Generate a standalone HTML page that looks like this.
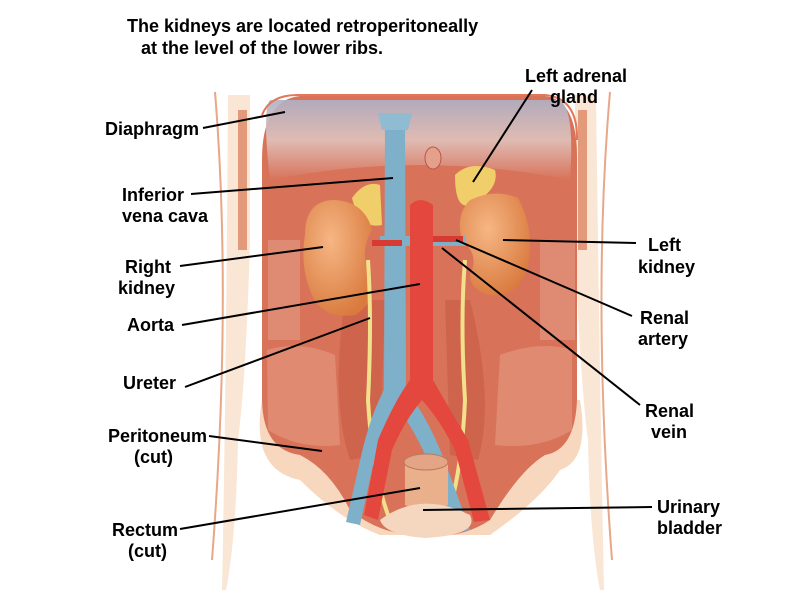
<!DOCTYPE html>
<html><head><meta charset="utf-8"><style>
html,body{margin:0;padding:0;background:#fff}
svg{display:block}
text{font-family:"Liberation Sans",Arial,sans-serif;font-weight:700;font-size:18px;fill:#000}
</style></head><body>
<svg width="800" height="601" viewBox="0 0 800 601" xmlns="http://www.w3.org/2000/svg">
<defs>
<linearGradient id="dia" x1="0" y1="0" x2="0" y2="1">
<stop offset="0" stop-color="#aeb0c6"/><stop offset="0.5" stop-color="#e0c3bc"/><stop offset="1" stop-color="#d8735a"/>
</linearGradient>
<radialGradient id="kid" cx="0.4" cy="0.35" r="0.7">
<stop offset="0" stop-color="#f6b684"/><stop offset="1" stop-color="#d97a3e"/>
</radialGradient>
</defs>
<!-- body outline / skin -->
<path d="M215 92 Q232 300 212 560" stroke="#e8a888" stroke-width="2" fill="none"/>
<path d="M610 92 Q592 300 612 560" stroke="#e8a888" stroke-width="2" fill="none"/>
<path d="M228 95 L250 95 L250 240 Q246 380 238 440 Q236 540 226 590 L222 590 Q226 400 228 95Z" fill="#fae6d4"/>
<path d="M596 95 L575 95 L575 240 Q580 380 588 440 Q590 540 600 590 L604 590 Q600 400 596 95Z" fill="#fae6d4"/>
<rect x="238" y="110" width="9" height="140" fill="#e39a7a"/>
<rect x="578" y="110" width="9" height="140" fill="#e39a7a"/>
<!-- peritoneum cream -->
<path d="M262 400 Q250 470 300 480 Q340 520 380 535 L490 535 Q540 500 560 470 Q590 460 580 400Z" fill="#f7d8bf"/>
<!-- main abdominal region -->
<path d="M262 160 Q262 100 300 96 L545 96 Q578 100 577 160 L577 400 Q575 450 545 455 Q520 470 490 520 Q460 540 420 535 Q380 535 350 510 Q330 470 300 455 Q263 450 262 400Z" fill="#d8735a"/>
<path d="M270 100 L560 100 Q575 110 570 180 Q420 150 270 180 Q262 110 270 100Z" fill="url(#dia)" opacity="0.9"/>
<path d="M262 115 Q270 94 300 95 L545 95 Q578 98 577 140" stroke="#e2775a" stroke-width="2" fill="none"/>
<!-- lateral lower muscles -->
<path d="M267 350 Q300 340 335 355 L340 445 Q300 450 268 430Z" fill="#e08a72"/>
<path d="M572 350 Q540 340 500 355 L495 445 Q540 450 572 430Z" fill="#e08a72"/>
<path d="M268 240 L300 240 L300 340 L268 340Z" fill="#e5a28c" opacity="0.5"/>
<path d="M540 240 L575 240 L575 340 L540 340Z" fill="#e5a28c" opacity="0.5"/>
<!-- psoas -->
<path d="M345 300 Q330 400 350 460 L380 455 L385 300Z" fill="#cf644c"/>
<path d="M470 300 Q495 400 478 460 L450 455 L445 300Z" fill="#cf644c"/>
<!-- adrenal glands -->
<path d="M352 198 Q365 180 380 185 L382 225 Q360 230 352 198Z" fill="#f0cf6a"/>
<path d="M455 175 Q470 160 495 170 Q500 190 470 205 Q455 210 455 175Z" fill="#f0cf6a"/>
<!-- kidneys -->
<path d="M305 235 Q305 200 335 200 Q365 202 372 230 Q360 250 368 270 Q380 300 355 315 Q320 320 310 290 Q300 265 305 235Z" fill="url(#kid)"/>
<path d="M470 200 Q495 188 518 198 Q535 230 528 265 Q520 298 490 295 Q470 290 470 275 Q480 255 462 240 Q455 215 470 200Z" fill="url(#kid)"/>
<!-- ureters -->
<path d="M368 260 Q372 320 368 400 Q372 470 388 515" stroke="#f3e08a" stroke-width="4" fill="none"/>
<path d="M465 260 Q460 320 465 400 Q462 470 448 515" stroke="#f3e08a" stroke-width="4" fill="none"/>
<!-- vena cava -->
<path d="M385 122 L405 122 L406 390 Q430 420 448 470 L470 530 L456 532 L432 470 Q415 430 396 405 Q380 430 372 470 L360 525 L346 522 L358 470 Q368 420 384 390Z" fill="#7fb0c9"/>
<path d="M378 113 L412 113 L408 130 L382 130Z" fill="#8fbbd3"/>
<rect x="380" y="236" width="85" height="10" fill="#7fb0c9"/>
<!-- aorta -->
<path d="M410 205 Q420 195 433 205 L433 380 Q450 410 468 440 L490 520 L474 522 L455 450 Q440 420 422 400 Q405 420 392 450 L378 520 L364 515 L378 440 Q395 400 410 380Z" fill="#e4473d"/>
<rect x="372" y="240" width="30" height="6" fill="#d63a30"/>
<rect x="433" y="236" width="30" height="6" fill="#d63a30"/>
<ellipse cx="433" cy="158" rx="8" ry="11" fill="#e4a08a" stroke="#b8574a"/>
<!-- rectum + bladder -->
<path d="M405 460 Q425 450 448 462 L448 505 Q425 515 405 505Z" fill="#eab08c"/>
<ellipse cx="426" cy="462" rx="22" ry="8" fill="#e3a585" stroke="#b97a5a"/>
<path d="M380 520 Q420 490 470 515 Q480 535 425 538 Q385 535 380 520Z" fill="#f5d7c0"/>
<!-- leader lines -->
<g stroke="#000" stroke-width="2" fill="none">
<line x1="203" y1="128" x2="285" y2="112"/>
<line x1="191" y1="194" x2="393" y2="178"/>
<line x1="180" y1="266" x2="323" y2="247"/>
<line x1="182" y1="325" x2="420" y2="284"/>
<line x1="185" y1="387" x2="370" y2="318"/>
<line x1="209" y1="436" x2="322" y2="451"/>
<line x1="180" y1="529" x2="420" y2="488"/>
<line x1="532" y1="90" x2="473" y2="182"/>
<line x1="636" y1="243" x2="503" y2="240"/>
<line x1="632" y1="316" x2="456" y2="240"/>
<line x1="640" y1="405" x2="442" y2="248"/>
<line x1="652" y1="507" x2="423" y2="510"/>
</g>
<!-- labels -->
<text x="127" y="32">The kidneys are located retroperitoneally</text>
<text x="141" y="54">at the level of the lower ribs.</text>
<text x="105" y="135">Diaphragm</text>
<text x="122" y="201">Inferior</text>
<text x="122" y="222">vena cava</text>
<text x="125" y="273">Right</text>
<text x="118" y="294">kidney</text>
<text x="127" y="331">Aorta</text>
<text x="123" y="389">Ureter</text>
<text x="108" y="442">Peritoneum</text>
<text x="134" y="463">(cut)</text>
<text x="112" y="536">Rectum</text>
<text x="128" y="557">(cut)</text>
<text x="525" y="82">Left adrenal</text>
<text x="550" y="103">gland</text>
<text x="648" y="251">Left</text>
<text x="638" y="273">kidney</text>
<text x="640" y="324">Renal</text>
<text x="638" y="345">artery</text>
<text x="645" y="417">Renal</text>
<text x="651" y="438">vein</text>
<text x="657" y="513">Urinary</text>
<text x="657" y="534">bladder</text>
</svg>
</body></html>
